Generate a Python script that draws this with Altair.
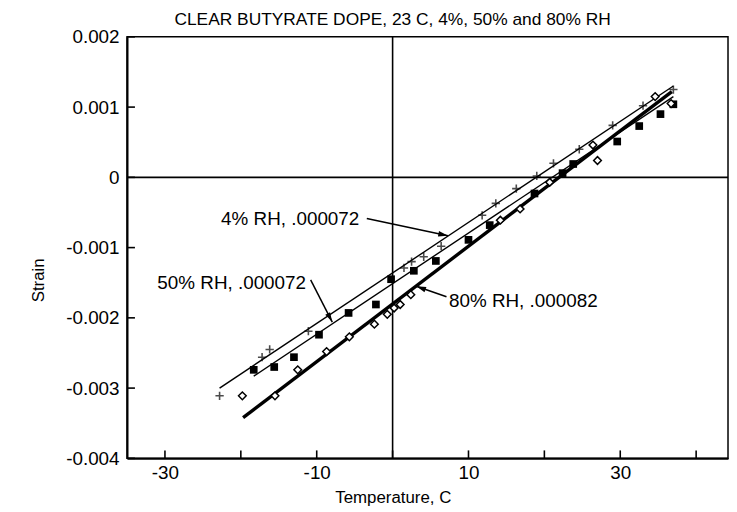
import altair as alt
import pandas as pd

# ---- data ----
# 4% RH (plus markers)
t_4 = [-22.8, -17.2, -16.2, -11.1, 1.5, 2.5, 4.1, 6.4, 11.8, 13.6, 16.3, 19.0, 21.2, 24.6, 29.0, 33.0, 37.0]
s_4 = [-0.00311, -0.00256, -0.00245, -0.00219, -0.00129, -0.00120, -0.00113, -0.00098,
       -0.00054, -0.00037, -0.00016, 0.00002, 0.00020, 0.00040, 0.00074, 0.00102, 0.00125]
# 50% RH (filled squares)
t_50 = [-18.3, -15.6, -13.0, -9.7, -5.8, -2.2, -0.2, 2.8, 5.7, 10.0, 12.8, 18.7, 22.4, 23.8, 29.6, 32.5, 35.3, 37.0]
s_50 = [-0.00274, -0.00270, -0.00256, -0.00224, -0.00193, -0.00181, -0.00145, -0.00133, -0.00119,
        -0.00089, -0.00068, -0.00023, 0.00006, 0.00019, 0.00051, 0.00073, 0.00090, 0.00104]
# 80% RH (open diamonds)
t_80 = [-19.8, -15.5, -12.5, -8.7, -5.7, -2.4, -0.7, 0.2, 1.0, 2.4, 14.2, 16.8, 20.7, 26.4, 27.0, 34.6, 36.7]
s_80 = [-0.00311, -0.00311, -0.00274, -0.00248, -0.00227, -0.00209, -0.00195, -0.00186, -0.00181,
        -0.00167, -0.00061, -0.00045, -0.00007, 0.00046, 0.00024, 0.00115, 0.00105]

# fitted lines (end points)
line_4_t = [-22.8, 37.0]
line_4_s = [-0.00300, 0.00130]
line_50_t = [-18.3, 37.0]
line_50_s = [-0.00283, 0.00115]
line_80_t = [-19.7, 36.8]
line_80_s = [-0.00342, 0.00122]

# annotations
ann_labels = ["4% RH, .000072", "50% RH, .000072", "80% RH, .000082"]
ann_tx = [-22.6, -31.0, 7.43]
ann_ty = [-0.000597, -0.00151, -0.00176]
arr_x1 = [-3.4, -10.8, 7.1]
arr_y1 = [-0.000585, -0.00146, -0.00170]
arr_x2 = [7.3, -7.95, 3.13]
arr_y2 = [-0.00083, -0.00206, -0.00155]
arr_angle = [101.4, 151.8, 290.6]

x_ticks = [-30, -20, -10, 0, 10, 20, 30, 40]
x_labels = [-30, -10, 10, 30]
y_ticks = [-0.004, -0.003, -0.002, -0.001, 0, 0.001, 0.002]

title_text = "CLEAR BUTYRATE DOPE, 23 C, 4%, 50% and 80% RH"

FONT = "Liberation Sans"
W, H = 606, 425

xs = alt.Scale(domain=[-35, 44.2], nice=False, zero=False)
ys = alt.Scale(domain=[-0.004, 0.002], nice=False, zero=False)

xaxis = alt.Axis(values=x_labels, ticks=False, tickSize=0, grid=False, domain=True,
                 domainColor="black", domainWidth=2, labelFont=FONT, labelFontSize=19,
                 labelColor="black", labelPadding=5,
                 labelExpr="replace(datum.label, '\u2212', '-')",
                 title="Temperature, C", titleFont=FONT, titleFontSize=17,
                 titleFontWeight="normal", titleColor="black",
                 titleX=268, titleY=40, titleBaseline="middle", titleAnchor="middle")
yaxis = alt.Axis(values=y_ticks, ticks=False, tickSize=0, grid=False, domain=True,
                 domainColor="black", domainWidth=2, labelFont=FONT, labelFontSize=19,
                 labelColor="black", labelPadding=8, format=".3f",
                 labelExpr="datum.value == 0 ? '0' : replace(datum.label, '\u2212', '-')",
                 title="Strain", titleFont=FONT, titleFontSize=17, titleFontWeight="normal",
                 titleColor="black", titleX=-89, titleY=245, titleAngle=270,
                 titleBaseline="middle", titleAlign="center")


def X(f):
    return alt.X(f, type="quantitative", scale=xs, axis=xaxis)


def Y(f):
    return alt.Y(f, type="quantitative", scale=ys, axis=yaxis)


pts4 = pd.DataFrame({"t": t_4, "s": s_4})
pts50 = pd.DataFrame({"t": t_50, "s": s_50})
pts80 = pd.DataFrame({"t": t_80, "s": s_80})

base_axes = alt.Chart(pd.DataFrame({"t": [-35, 44], "s": [-0.004, 0.002]})).mark_point(opacity=0).encode(
    x=X("t"), y=Y("s"))

zero_v = alt.Chart(pd.DataFrame({"t": [0]})).mark_rule(color="black", strokeWidth=1.6).encode(x=X("t"))
zero_h = alt.Chart(pd.DataFrame({"s": [0]})).mark_rule(color="black", strokeWidth=1.6).encode(y=Y("s"))

xt = alt.Chart(pd.DataFrame({"t": x_ticks})).mark_rule(color="black", strokeWidth=1.6).encode(
    x=X("t"), y=alt.value(H), y2=alt.value(H - 8))
yt = alt.Chart(pd.DataFrame({"s": y_ticks})).mark_rule(color="black", strokeWidth=1.6).encode(
    y=Y("s"), x=alt.value(0), x2=alt.value(8))


def fit_line(tt, ss, w):
    return alt.Chart(pd.DataFrame({"t": tt, "s": ss})).mark_line(color="black", strokeWidth=w).encode(
        x=X("t"), y=Y("s"))


l4 = fit_line(line_4_t, line_4_s, 1.4)
l50 = fit_line(line_50_t, line_50_s, 1.4)
l80 = fit_line(line_80_t, line_80_s, 3.4)

p4 = alt.Chart(pts4).mark_point(shape="M-1,0H1M0,-1V1", filled=False, color="black",
                                 strokeWidth=1.6, size=70).encode(x=X("t"), y=Y("s"))
p50 = alt.Chart(pts50).mark_point(shape="square", filled=True, color="black", opacity=1,
                                   size=60).encode(x=X("t"), y=Y("s"))
p80 = alt.Chart(pts80).mark_point(shape="diamond", filled=False, color="black", fill="white",
                                   fillOpacity=1, strokeWidth=1.5, size=60).encode(x=X("t"), y=Y("s"))

ann = pd.DataFrame({"label": ann_labels, "tx": ann_tx, "ty": ann_ty,
                    "x1": arr_x1, "y1": arr_y1, "x2": arr_x2, "y2": arr_y2, "a": arr_angle})
ann_text = alt.Chart(ann).mark_text(align="left", baseline="middle", font=FONT, fontSize=19,
                                    color="black").encode(x=X("tx"), y=Y("ty"), text="label:N")
ann_shaft = alt.Chart(ann).mark_rule(color="black", strokeWidth=1.5).encode(
    x=X("x1"), y=Y("y1"), x2="x2:Q", y2="y2:Q")
ann_head = alt.Chart(ann).mark_point(shape="M0,0L0.45,1.6L-0.45,1.6Z", filled=True, color="black",
                                      opacity=1, size=150).encode(
    x=X("x2"), y=Y("y2"), angle=alt.Angle("a:Q", scale=None))

title = alt.Chart(pd.DataFrame({"t": [0], "label": [title_text]})).mark_text(
    align="center", baseline="middle", font=FONT, fontSize=17.5, color="black").encode(
    x=X("t"), y=alt.value(-17), text="label:N")

chart = alt.layer(base_axes, zero_v, zero_h, xt, yt, l4, l50, l80, p4, p50, p80,
                  ann_shaft, ann_head, ann_text, title).properties(
    width=W, height=H,
    autosize=alt.AutoSizeParams(type="none"),
    padding={"left": 120, "top": 27, "right": 1, "bottom": 50},
    background="white",
).configure_view(stroke="black", strokeWidth=1.5)

chart.save("out.html", embed_options={"renderer": "svg", "actions": False})
